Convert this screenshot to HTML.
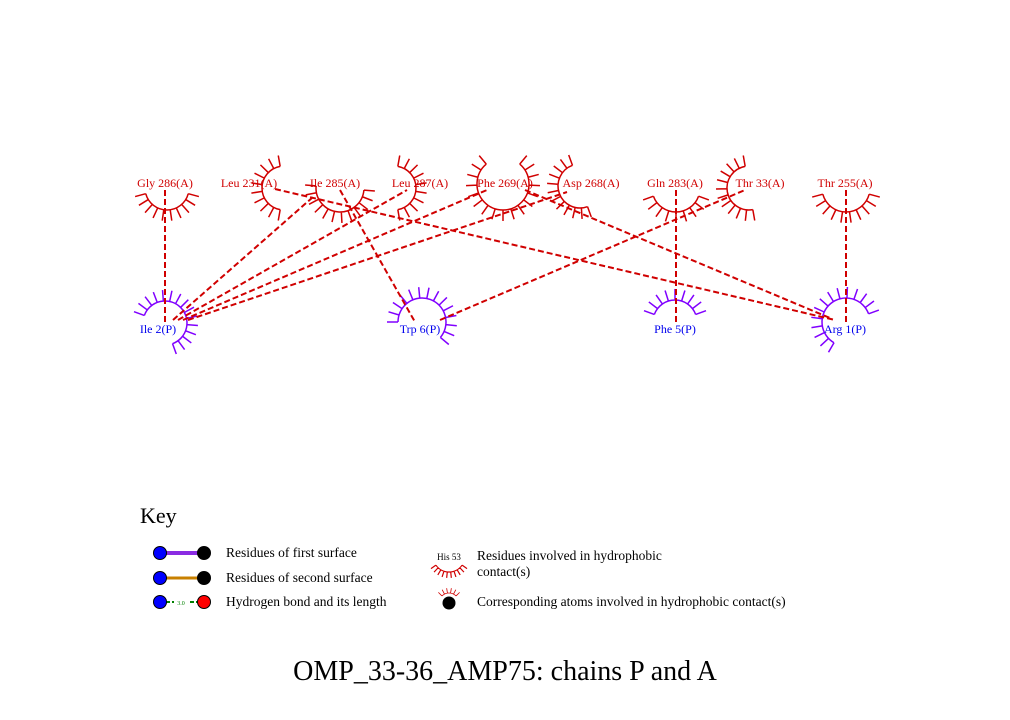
<!DOCTYPE html>
<html><head><meta charset="utf-8"><style>
html,body{margin:0;padding:0;background:#fff;width:1010px;height:720px;overflow:hidden}
svg{display:block}
text{font-family:"Liberation Serif",serif}
</style></head><body>
<svg id="s" width="1010" height="720" viewBox="0 0 1010 720" xmlns="http://www.w3.org/2000/svg">
<g id="arcs"></g>
<g stroke="#d00000" stroke-width="2" stroke-dasharray="6,3" fill="none">
<line x1="165" y1="190" x2="165" y2="322"/>
<line x1="173" y1="320" x2="313" y2="197"/>
<line x1="178" y1="320" x2="407" y2="190"/>
<line x1="183" y1="320" x2="487" y2="190"/>
<line x1="188" y1="320" x2="567" y2="192"/>
<line x1="275" y1="189" x2="835" y2="320"/>
<line x1="340" y1="190" x2="415" y2="322"/>
<line x1="525" y1="190" x2="830" y2="318"/>
<line x1="440" y1="320" x2="745" y2="190"/>
<line x1="676" y1="190" x2="676" y2="322"/>
<line x1="846" y1="190" x2="846" y2="322"/>
</g>
<g fill="#d00000" font-size="12" text-anchor="middle">
<text x="165" y="187">Gly 286(A)</text>
<text x="249" y="187">Leu 231(A)</text>
<text x="335" y="187">Ile 285(A)</text>
<text x="420" y="187">Leu 287(A)</text>
<text x="505" y="187">Phe 269(A)</text>
<text x="591" y="187">Asp 268(A)</text>
<text x="675" y="187">Gln 283(A)</text>
<text x="760" y="187">Thr 33(A)</text>
<text x="845" y="187">Thr 255(A)</text>
</g>
<g fill="#0000ee" font-size="12" text-anchor="middle">
<text x="158" y="333">Ile 2(P)</text>
<text x="420" y="333">Trp 6(P)</text>
<text x="675" y="333">Phe 5(P)</text>
<text x="845" y="333">Arg 1(P)</text>
</g>
<text x="140" y="523" font-size="22">Key</text>
<line x1="160" y1="553" x2="204" y2="553" stroke="#8a2be2" stroke-width="4"/>
<line x1="160" y1="578" x2="204" y2="578" stroke="#c88000" stroke-width="3"/>
<line x1="160" y1="602" x2="204" y2="602" stroke="#008000" stroke-width="2" stroke-dasharray="4,2"/>
<rect x="174" y="598" width="14" height="8" fill="#fff"/>
<text x="181" y="605" font-size="6" fill="#008000" text-anchor="middle">3.0</text>
<g stroke="#000" stroke-width="1">
<circle cx="160" cy="553" r="6.5" fill="#0000ff"/><circle cx="204" cy="553" r="6.5" fill="#000"/>
<circle cx="160" cy="578" r="6.5" fill="#0000ff"/><circle cx="204" cy="578" r="6.5" fill="#000"/>
<circle cx="160" cy="602" r="6.5" fill="#0000ff"/><circle cx="204" cy="602" r="6.5" fill="#ff0000"/>
</g>
<g font-size="13.5" fill="#000">
<text x="226" y="557">Residues of first surface</text>
<text x="226" y="582">Residues of second surface</text>
<text x="226" y="606">Hydrogen bond and its length</text>
<text x="477" y="560">Residues involved in hydrophobic</text>
<text x="477" y="576">contact(s)</text>
<text x="477" y="606">Corresponding atoms involved in hydrophobic contact(s)</text>
</g>
<text x="449" y="560" font-size="9" text-anchor="middle">His 53</text>
<circle cx="449" cy="603" r="6.5" fill="#000"/>
<text x="505" y="680" font-size="28" text-anchor="middle">OMP_33-36_AMP75: chains P and A</text>
</svg>
<script>
(function(){
var g=document.getElementById('arcs'),ns="http://www.w3.org/2000/svg";
function arc(cx,cy,r,a0,a1,col,tl,n,w){
 var p=document.createElementNS(ns,'path'),d='';
 var s=Math.PI/180;
 var x0=cx+r*Math.cos(a0*s),y0=cy+r*Math.sin(a0*s),x1=cx+r*Math.cos(a1*s),y1=cy+r*Math.sin(a1*s);
 d='M'+x0+' '+y0+' A'+r+' '+r+' 0 '+((a1-a0)>180?1:0)+' 1 '+x1+' '+y1;
 n=n||Math.round((a1-a0)/17);
 for(var i=0;i<=n;i++){var a=(a0+(a1-a0)*i/n)*s;
  d+=' M'+(cx+r*Math.cos(a))+' '+(cy+r*Math.sin(a))+' L'+(cx+(r+tl)*Math.cos(a))+' '+(cy+(r+tl)*Math.sin(a));}
 p.setAttribute('d',d);p.setAttribute('stroke',col);p.setAttribute('stroke-width',w||1.5);p.setAttribute('fill','none');g.appendChild(p);
}
var R='#d00000',B='#8000ff';
arc(167,188,22,15,165,R,11);
arc(284,188,22,100,260,R,11);
arc(340,188,24,5,185,R,11);
arc(394,188,22,-80,80,R,11);
arc(503,184,26,-50,230,R,11);
arc(580,186,22,70,250,R,11);
arc(676,188,24,20,160,R,11);
arc(749,188,22,80,260,R,11);
arc(846,188,24,15,165,R,11);
arc(165,323,22,-160,70,B,11);
arc(422,322,24,-180,40,B,11);
arc(675,322,22,-160,-20,B,11);
arc(846,322,24,120,340,B,11);
arc(449,556,16,35,145,R,6,9,1.2);
arc(449,603,10,-135,-45,R,5,5,0.8);
})();
</script>
</body></html>
